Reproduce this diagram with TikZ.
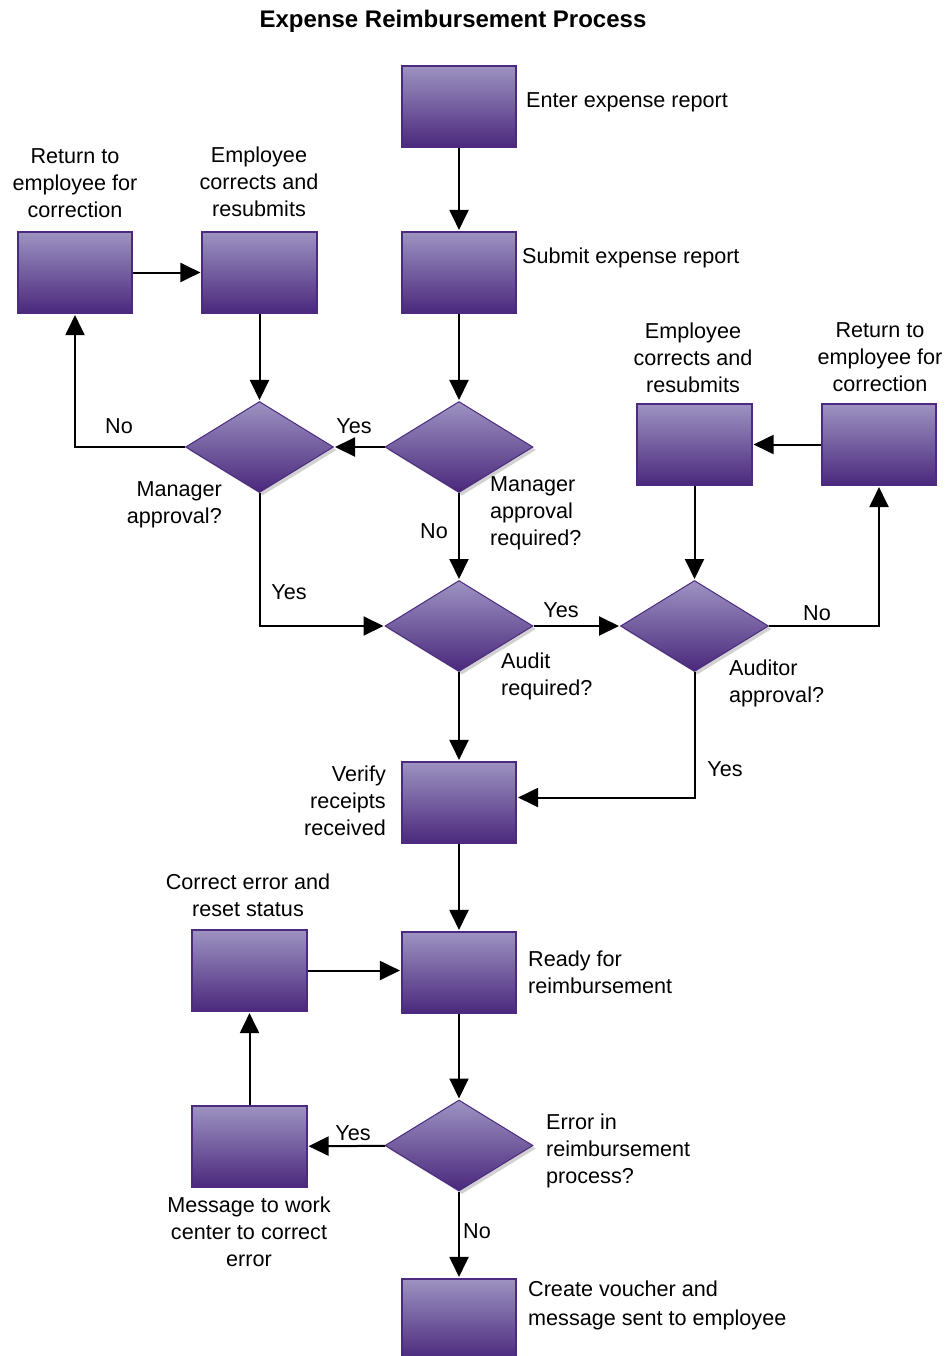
\documentclass[tikz,border=0pt]{standalone}
\usepackage{fontspec}
\setmainfont{Liberation Sans}
\usetikzlibrary{shapes.geometric,arrows.meta,shadows}
\definecolor{ptop}{RGB}{157,147,194}
\definecolor{pbot}{RGB}{74,40,124}
\definecolor{pedge}{RGB}{76,42,128}
\begin{document}
\begin{tikzpicture}[x=1pt,y=-1pt,
  box/.style={draw=pedge,line width=1.6pt,top color=ptop,bottom color=pbot,
    minimum width=114.5pt,minimum height=81.5pt,inner sep=0pt},
  dia/.style={diamond,draw=pedge,line width=1pt,top color=ptop,bottom color=pbot,
    minimum width=148pt,minimum height=91pt,inner sep=0pt,
    drop shadow={shadow xshift=3pt,shadow yshift=-3pt,fill=black!18,opacity=1}},
  arr/.style={line width=2pt,-{Triangle[length=20pt,width=19pt]},shorten >=1pt},
  lbl/.style={font=\fontsize{21.6}{27}\selectfont,inner sep=0pt},
  ttl/.style={font=\fontsize{24}{28}\selectfont\bfseries,inner sep=0pt}]
\useasboundingbox (0,0) rectangle (947,1356);

% boxes
\node[box] (enter) at (459,106.5) {};
\node[box] (submit) at (459,272.5) {};
\node[box] (ret1) at (75,272.5) {};
\node[box] (emp1) at (259.5,272.5) {};
\node[box] (emp2) at (694.5,444.5) {};
\node[box] (ret2) at (879,444.5) {};
\node[box] (verify) at (459,802.5) {};
\node[box] (corr) at (249.5,970.5) {};
\node[box] (ready) at (459,972.5) {};
\node[box] (msg) at (249.5,1146.5) {};
\node[box] (voucher) at (459,1319.5) {};

% diamonds
\node[dia] (mar) at (459,447) {};
\node[dia] (ma) at (259.5,447) {};
\node[dia] (aud) at (459,626) {};
\node[dia] (audapp) at (694.5,626) {};
\node[dia] (err) at (459,1145.5) {};

% connectors
\draw[arr] (enter) -- (submit);
\draw[arr] (submit) -- (mar);
\draw[arr] (mar) -- (ma);
\draw[arr] (mar) -- (aud);
\draw[arr] (ma.west) -| (ret1.south);
\draw[arr] (ret1) -- (emp1);
\draw[arr] (emp1) -- (ma);
\draw[arr] (ma.south) |- (aud.west);
\draw[arr] (aud) -- (audapp);
\draw[arr] (audapp.east) -| (ret2.south);
\draw[arr] (ret2) -- (emp2);
\draw[arr] (emp2) -- (audapp);
\draw[arr] (audapp.south) |- ([yshift=5pt]verify.east);
\draw[arr] (aud) -- (verify);
\draw[arr] (verify) -- (ready);
\draw[arr] (corr.east) -- (corr.east -| ready.west);
\draw[arr] (ready) -- (err);
\draw[arr] (err) -- (msg);
\draw[arr] (msg) -- (corr);
\draw[arr] (err) -- (voucher);

% connector labels
\node[lbl] (l1) at (354,426) {Yes};
\node[lbl] (l2) at (434,531) {No};
\node[lbl] (l3) at (119,426) {No};
\node[lbl] (l4) at (289,592) {Yes};
\node[lbl] (l5) at (561,610) {Yes};
\node[lbl] (l6) at (817,613) {No};
\node[lbl] (l7) at (725,769) {Yes};
\node[lbl] (l8) at (353,1133) {Yes};
\node[lbl] (l9) at (477,1231) {No};

% texts
\node[ttl] (title) at (453,21) {Expense Reimbursement Process};
\node[lbl,anchor=west] (t1) at (526,102) {Enter expense report};
\node[lbl,anchor=west] (t2) at (522,258) {Submit expense report};
\node[lbl,align=center] (t3) at (75,183) {Return to\\employee for\\correction};
\node[lbl,align=center] (t4) at (259,182) {Employee\\corrects and\\resubmits};
\node[lbl,align=center] (t5) at (693,358) {Employee\\corrects and\\resubmits};
\node[lbl,align=center] (t6) at (880,357) {Return to\\employee for\\correction};
\node[lbl,align=right,anchor=east] (t7) at (222,505) {Manager\\approval?};
\node[lbl,align=left,anchor=west] (t8) at (490,513) {Manager\\approval\\required?};
\node[lbl,align=left,anchor=west] (t9) at (501,676) {Audit\\required?};
\node[lbl,align=left,anchor=west] (t10) at (729,683) {Auditor\\approval?};
\node[lbl,align=right,anchor=east] (t11) at (386,801) {Verify\\receipts\\received};
\node[lbl,align=center] (t12) at (248,895) {Correct error and\\reset status};
\node[lbl,align=left,anchor=west] (t13) at (528,972) {Ready for\\reimbursement};
\node[lbl,align=left,anchor=west] (t14) at (546,1151) {Error in\\reimbursement\\process?};
\node[lbl,align=center] (t15) at (249,1232) {Message to work\\center to correct\\error};
\node[lbl,align=left,anchor=west,font=\fontsize{21.6}{29}\selectfont] (t16) at (528,1305) {Create voucher and\\message sent to employee};
\end{tikzpicture}
\end{document}
